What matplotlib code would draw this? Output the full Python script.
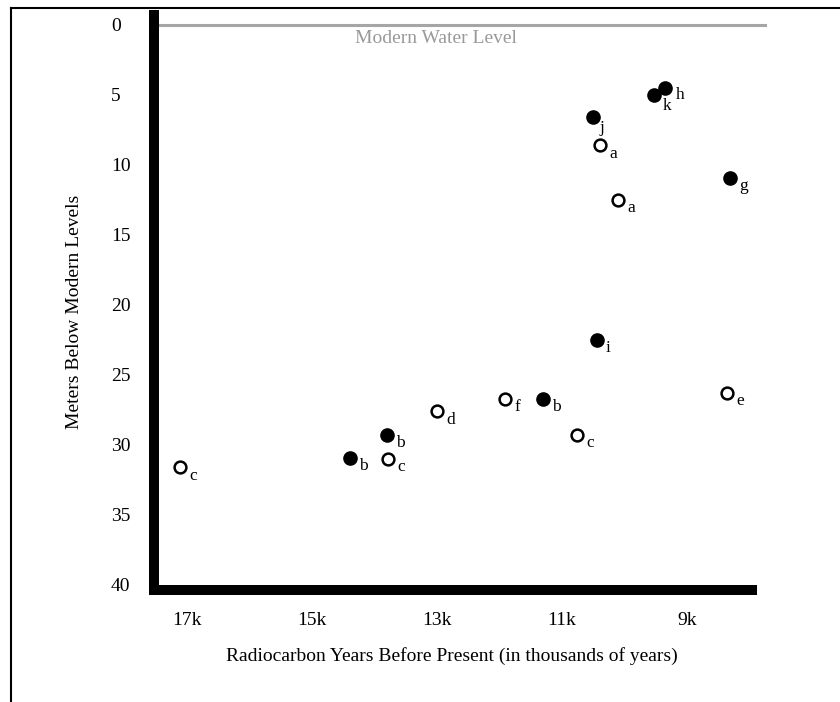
import matplotlib
matplotlib.use('Agg')
from matplotlib import pyplot as plt
from matplotlib.lines import Line2D

# Data: radiocarbon age (thousands of years BP), depth below modern level (m)
ages = [17.11, 14.39, 13.80, 13.78, 13.00, 11.91, 11.30, 10.76, 8.36,
        10.44, 9.53, 9.35, 10.50, 10.39, 8.31, 10.10]
depths = [31.6, 30.9, 29.3, 31.0, 27.6, 26.7, 26.7, 29.3, 26.3,
          22.5, 5.0, 4.5, 6.6, 8.6, 10.9, 12.5]
sources = ['c', 'b', 'b', 'c', 'd', 'f', 'b', 'c', 'e',
           'i', 'k', 'h', 'j', 'a', 'g', 'a']
filled = [False, True, True, False, False, False, True, False, False,
          True, True, True, True, False, True, False]

xticks = [17, 15, 13, 11, 9]
xticklabels = ['17k', '15k', '13k', '11k', '9k']
yticks = [0, 5, 10, 15, 20, 25, 30, 35, 40]

plt.rcParams['font.family'] = ['Liberation Serif', 'DejaVu Serif']

fig = plt.figure(figsize=(8.4, 7.02), dpi=100)
ax = fig.add_axes([154 / 840, 1 - 590 / 702, 598 / 840, 575 / 702])

# Points
for x, y, s, f in zip(ages, depths, sources, filled):
    if f:
        ax.plot(x, y, 'o', ms=9.5, color='black', mec='black', clip_on=False)
    else:
        ax.plot(x, y, 'o', ms=8.5, mfc='white', mec='black', mew=1.8, clip_on=False)
    # label offsets (points)
    off = (6.5, -6)
    if s == 'j':
        off = (4.5, -8)
    elif s == 'k':
        off = (6.5, -8)
    elif s == 'h':
        off = (7.5, -5)
    ax.annotate(s, (x, y), xytext=off, textcoords='offset points',
                ha='left', va='center', fontsize=12.5)

# Modern water level
ax.plot([17.43, 7.75], [0, 0], color='#a6a6a6', lw=2.2, clip_on=False, zorder=1)
ax.text(13.02, 0.95, 'Modern Water Level', color='#999999', fontsize=14,
        ha='center', va='center')

ax.set_xlim(17.528, 7.96)
ax.set_ylim(40.36, -0.71)
ax.set_xticks(xticks)
ax.set_xticklabels(xticklabels)
ax.set_yticks(yticks)

for side in ('top', 'right'):
    ax.spines[side].set_visible(False)
for side in ('left', 'bottom'):
    ax.spines[side].set_linewidth(7.2)
    ax.spines[side].set_color('black')

ax.tick_params(axis='both', length=0, labelsize=14)
ax.tick_params(axis='x', pad=16)
ax.tick_params(axis='y', pad=31)
for lab in ax.get_yticklabels():
    lab.set_horizontalalignment('left')

ax.set_xlabel('Radiocarbon Years Before Present (in thousands of years)', fontsize=14)
ax.xaxis.set_label_coords(0.498, -0.100)
ax.xaxis.label.set_va('top')
ax.set_ylabel('Meters Below Modern Levels', fontsize=14)
ax.yaxis.set_label_coords(-0.119, 0.483)

# Page border (left and top edges)
fig.add_artist(Line2D([11 / 840, 11 / 840], [0, 1 - 8 / 702], color='black', lw=1.5,
                      transform=fig.transFigure))
fig.add_artist(Line2D([11 / 840, 1], [1 - 8 / 702, 1 - 8 / 702], color='black', lw=1.5,
                      transform=fig.transFigure))

fig.savefig('out.png', dpi=100)
